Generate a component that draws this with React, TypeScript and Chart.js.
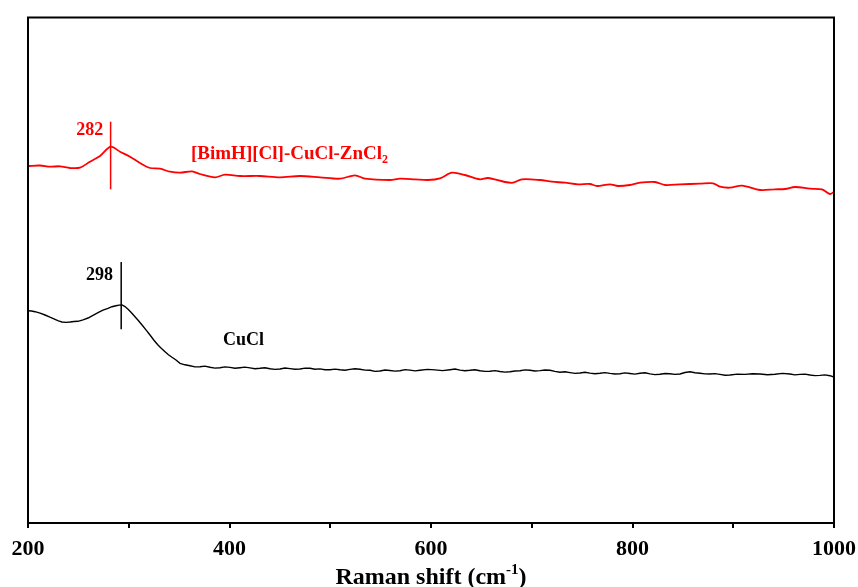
import React, { useEffect, useRef } from "react";
import { Chart, registerables } from "chart.js";

Chart.register(...registerables);

// Raman shift (cm-1) and intensity (a.u.)
const hybridShift = [200, 211.9, 221.8, 231.8, 241.7, 251.6, 261.5, 271.5, 282, 291.3, 301.2, 311.2, 321.1, 331, 341, 350.9, 362.8, 370.7, 385.6, 395.5, 410.4, 430.3, 450.1, 470, 489.8, 509.7, 524.6, 534.5, 559.3, 569.2, 584.1, 597, 608.9, 620.8, 633.7, 648.6, 656.6, 673.4, 681.4, 690.3, 708.2, 720.1, 733, 745.9, 757.8, 764.8, 777.7, 785.6, 797.5, 807.4, 822.3, 832.3, 847.1, 867, 879.9, 886.8, 896.8, 908.7, 926.6, 941.4, 951.4, 961.3, 976.2, 988.1, 996, 1000];
const hybridIntensity = [357, 357.5, 356.3, 356.7, 355, 355.3, 361.3, 367, 376.3, 371.3, 366.3, 360, 355, 354.3, 351.3, 350.3, 351.7, 349, 345.7, 348.3, 347, 347, 345.7, 347, 345.7, 344.3, 347.7, 344.3, 343, 344.3, 343.7, 343, 344.7, 350.3, 348, 343.7, 345, 341, 340.3, 343.7, 343, 341.3, 340.3, 338.7, 339, 337, 338.7, 337, 338, 340.3, 341, 338, 338.7, 339.3, 339.7, 336.3, 335.3, 337.3, 333, 333.7, 334, 336, 334.3, 333.7, 329, 331.3];

const cuclShift = [200, 203.5, 207, 212, 216.9, 221.8, 226.8, 230.2, 233.7, 237.7, 241.7, 245.6, 249.6, 254.6, 259.6, 264.5, 269.5, 274.4, 279.4, 283.3, 287.3, 290.3, 293.3, 296.3, 299.3, 302.7, 306.2, 309.7, 313.2, 317.1, 321.1, 325, 329, 332.5, 336, 339.4, 342.9, 346.9, 350.9, 355.8, 360.8, 365.7, 370.7, 375.6, 380.6, 385.6, 390.6, 395.5, 400.5, 405.4, 410.4, 415.3, 420.3, 425.3, 430.3, 435.2, 440.2, 445.1, 450.1, 455.1, 460.1, 465, 470, 475, 479.9, 484.8, 489.8, 494.7, 499.7, 504.7, 509.7, 514.6, 519.6, 524.5, 529.5, 534.5, 539.5, 544.4, 549.4, 554.3, 559.3, 564.2, 569.2, 574.2, 579.2, 584.1, 589.1, 596.5, 604, 611.5, 618.9, 623.8, 628.8, 633.7, 638.7, 643.6, 648.6, 653.6, 658.6, 663.5, 668.5, 673.4, 678.4, 683.3, 688.3, 693.3, 698.3, 703.2, 708.2, 713.1, 718.1, 723, 728, 733, 738, 742.9, 747.9, 752.8, 757.8, 762.7, 767.7, 772.7, 777.7, 782.6, 787.6, 792.5, 797.5, 802.4, 807.4, 812.4, 817.4, 822.3, 827.3, 832.2, 837.2, 842.1, 847.1, 852.1, 857.1, 862, 867, 872, 876.9, 881.8, 886.8, 891.8, 896.8, 904.2, 911.7, 919.1, 926.6, 934, 941.4, 948.8, 956.3, 961.2, 966.2, 971.2, 976.2, 981.1, 986.1, 991, 996, 1000];
const cuclIntensity = [212.3, 212, 211.3, 209.8, 208, 205.8, 203.7, 202.2, 201, 200.6, 201, 201.5, 201.7, 203.2, 205, 207.6, 210.3, 212.8, 214.7, 216.3, 217.3, 217.9, 218, 216.4, 213.7, 210.2, 206.3, 202.3, 198, 193.1, 188, 182.8, 178, 174.5, 171.3, 168.3, 165.7, 163, 159.7, 158.2, 157.3, 156.1, 156.3, 156.9, 155.8, 154.9, 155.3, 156.1, 155.6, 154.8, 155.3, 155.9, 155.1, 154.3, 154.7, 155.3, 154.3, 153.6, 154, 155, 154.4, 153.7, 154, 154.9, 154.7, 153.7, 154.1, 153.2, 153.3, 153.9, 153.2, 152.8, 153.6, 154.3, 153.7, 152.9, 152.8, 151.6, 152, 153, 152.5, 151.9, 152.3, 153.4, 152.9, 152.1, 152.7, 153.6, 153.1, 152.4, 153.3, 154, 152.9, 152.3, 152.7, 153.3, 152.3, 151.6, 151.7, 152.4, 151.5, 150.9, 151.3, 152, 152.2, 153.1, 152.7, 152, 152.4, 153, 152.7, 151.6, 150.7, 151.3, 150.4, 149.6, 150, 150.8, 149.9, 149.2, 149.7, 150.4, 149.6, 149, 149.3, 150.1, 149.5, 148.9, 149.7, 150.2, 149.1, 148.4, 148.7, 149.5, 149.3, 148.6, 149, 150.5, 151.3, 150.2, 149.8, 149.1, 149, 149.4, 148.6, 147.8, 148, 148.9, 148.6, 149.3, 149, 148.2, 148.7, 149.6, 149, 148.1, 148.6, 148.9, 148, 147.4, 147.6, 148.1, 147.3, 146];

const xTicks = [200, 400, 600, 800, 1000];

const SERIF = '"Liberation Serif", "Times New Roman", serif';

const toPoints = (xs: number[], ys: number[]) => xs.map((x, i) => ({ x, y: ys[i] }));

const decorPlugin = {
  id: "decor",
  afterDatasetsDraw(chart: any) {
    const { ctx, chartArea, scales } = chart;
    const xs = scales.x;
    const ys = scales.y;
    ctx.save();

    // peak markers
    ctx.lineWidth = 1.5;
    ctx.strokeStyle = "#ff0000";
    ctx.beginPath();
    ctx.moveTo(xs.getPixelForValue(282), ys.getPixelForValue(401.3));
    ctx.lineTo(xs.getPixelForValue(282), ys.getPixelForValue(333.7));
    ctx.stroke();
    ctx.strokeStyle = "#000";
    ctx.beginPath();
    ctx.moveTo(xs.getPixelForValue(292.5), ys.getPixelForValue(261));
    ctx.lineTo(xs.getPixelForValue(292.5), ys.getPixelForValue(193.7));
    ctx.stroke();

    // labels
    ctx.textBaseline = "alphabetic";
    ctx.font = `bold 18px ${SERIF}`;
    ctx.fillStyle = "#ff0000";
    ctx.textAlign = "right";
    ctx.fillText("282", xs.getPixelForValue(274.6), ys.getPixelForValue(388.3));
    ctx.fillStyle = "#000";
    ctx.fillText("298", xs.getPixelForValue(284.4), ys.getPixelForValue(243));
    ctx.textAlign = "left";
    ctx.fillText("CuCl", xs.getPixelForValue(393.5), ys.getPixelForValue(178));

    // hybrid label with subscript
    ctx.fillStyle = "#ff0000";
    ctx.font = `bold 19px ${SERIF}`;
    const main = "[BimH][Cl]-CuCl-ZnCl";
    const lx = xs.getPixelForValue(361.8);
    const ly = ys.getPixelForValue(364);
    ctx.fillText(main, lx, ly);
    const w = ctx.measureText(main).width;
    ctx.font = `bold 12px ${SERIF}`;
    ctx.fillText("2", lx + w, ly + 4);

    // frame
    ctx.strokeStyle = "#000";
    ctx.lineWidth = 2;
    ctx.strokeRect(chartArea.left, chartArea.top, chartArea.right - chartArea.left, chartArea.bottom - chartArea.top);

    // axis title with superscript
    const t1 = "Raman shift (cm";
    const sup = "-1";
    const t2 = ")";
    ctx.fillStyle = "#000";
    ctx.font = `bold 24px ${SERIF}`;
    const w1 = ctx.measureText(t1).width;
    const w3 = ctx.measureText(t2).width;
    ctx.font = `bold 15px ${SERIF}`;
    const w2 = ctx.measureText(sup).width;
    const total = w1 + w2 + w3;
    const cx = (chartArea.left + chartArea.right) / 2;
    let tx = cx - total / 2;
    const tb = 584;
    ctx.textAlign = "left";
    ctx.font = `bold 24px ${SERIF}`;
    ctx.fillText(t1, tx, tb);
    tx += w1;
    ctx.font = `bold 15px ${SERIF}`;
    ctx.fillText(sup, tx, tb - 10);
    tx += w2;
    ctx.font = `bold 24px ${SERIF}`;
    ctx.fillText(t2, tx, tb);

    ctx.restore();
  },
};

export default function App() {
  const ref = useRef<HTMLCanvasElement | null>(null);

  useEffect(() => {
    if (!ref.current) return;
    const chart = new Chart(ref.current, {
      type: "line",
      data: {
        datasets: [
          {
            label: "[BimH][Cl]-CuCl-ZnCl2",
            data: toPoints(hybridShift, hybridIntensity),
            borderColor: "#ff0000",
            borderWidth: 1.8,
            pointRadius: 0,
            tension: 0.3,
            fill: false,
          },
          {
            label: "CuCl",
            data: toPoints(cuclShift, cuclIntensity),
            borderColor: "#000000",
            borderWidth: 1.4,
            pointRadius: 0,
            tension: 0,
            fill: false,
          },
        ],
      },
      options: {
        responsive: false,
        animation: false,
        layout: { padding: { left: 28, right: 24, top: 17.5, bottom: 0 } },
        plugins: { legend: { display: false }, tooltip: { enabled: false }, title: { display: false } },
        scales: {
          x: {
            type: "linear",
            min: 200,
            max: 1000,
            border: { display: false },
            grid: {
              display: true,
              drawOnChartArea: false,
              drawTicks: true,
              tickLength: 5,
              lineWidth: 2,
              color: "#000",
            },
            ticks: {
              stepSize: 100,
              autoSkip: false,
              maxRotation: 0,
              padding: 8,
              color: "#000",
              font: { family: SERIF, size: 22, weight: "bold" },
              callback: (v: any) => (xTicks.includes(Number(v)) ? String(v) : ""),
            },
            afterFit: (scale: any) => {
              scale.height = 64;
              scale.paddingLeft = 0;
              scale.paddingRight = 0;
            },
          },
          y: {
            type: "linear",
            display: false,
            min: 0,
            max: 505.5,
          },
        },
      },
      plugins: [decorPlugin],
    });
    return () => chart.destroy();
  }, []);

  return (
    <div style={{ position: "absolute", left: 0, top: 0, width: 858, height: 587, background: "#fff" }}>
      <canvas ref={ref} width={858} height={587} />
    </div>
  );
}
